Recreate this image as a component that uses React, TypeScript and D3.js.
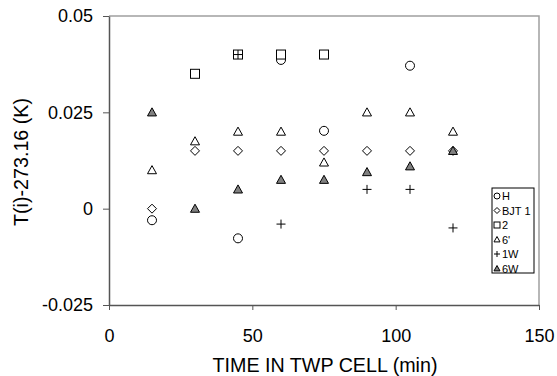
import * as d3 from 'd3';
import { useEffect, useRef } from 'react';

// time in TWP cell (min)
const timesH = [15, 45, 60, 75, 105];
const valuesH = [-0.003, -0.0077, 0.0386, 0.0202, 0.0371];

const timesBJT = [15, 30, 45, 60, 75, 90, 105, 120];
const valuesBJT = [0, 0.015, 0.015, 0.015, 0.015, 0.015, 0.015, 0.015];

const times2 = [30, 45, 60, 75];
const values2 = [0.035, 0.04, 0.04, 0.04];

const times6p = [15, 30, 45, 60, 75, 90, 105, 120];
const values6p = [0.01, 0.0175, 0.02, 0.02, 0.012, 0.025, 0.025, 0.02];

const times1W = [45, 60, 90, 105, 120];
const values1W = [0.04, -0.004, 0.005, 0.005, -0.005];

const times6W = [15, 30, 45, 60, 75, 90, 105, 120];
const values6W = [0.025, 0, 0.005, 0.0075, 0.0075, 0.0095, 0.011, 0.015];

const xTicks = [0, 50, 100, 150];
const yTicks = [-0.025, 0, 0.025, 0.05];
const yTickLabels = ['-0.025', '0', '0.025', '0.05'];

type Marker = 'circle' | 'diamond' | 'square' | 'triangle' | 'plus' | 'triangleFilled';

const series: { name: string; marker: Marker; x: number[]; y: number[] }[] = [
    { name: 'H', marker: 'circle', x: timesH, y: valuesH },
    { name: 'BJT 1', marker: 'diamond', x: timesBJT, y: valuesBJT },
    { name: '2', marker: 'square', x: times2, y: values2 },
    { name: "6'", marker: 'triangle', x: times6p, y: values6p },
    { name: '1W', marker: 'plus', x: times1W, y: values1W },
    { name: '6W', marker: 'triangleFilled', x: times6W, y: values6W },
];

const W = 557;
const H = 376;
const FONT = '"Liberation Sans", Arial, sans-serif';

function drawMarker(g: d3.Selection<SVGGElement, unknown, null, undefined>, m: Marker, cx: number, cy: number, s: number) {
    const r = s / 2;
    if (m === 'circle') {
        g.append('circle').attr('cx', cx).attr('cy', cy).attr('r', r)
            .attr('fill', 'white').attr('stroke', '#000').attr('stroke-width', 1);
    } else if (m === 'square') {
        g.append('rect').attr('x', cx - r).attr('y', cy - r).attr('width', s).attr('height', s)
            .attr('fill', 'white').attr('stroke', '#000').attr('stroke-width', 1);
    } else if (m === 'diamond') {
        g.append('path')
            .attr('d', `M${cx},${cy - r}L${cx + r},${cy}L${cx},${cy + r}L${cx - r},${cy}Z`)
            .attr('fill', 'white').attr('stroke', '#000').attr('stroke-width', 1);
    } else if (m === 'triangle' || m === 'triangleFilled') {
        g.append('path')
            .attr('d', `M${cx},${cy - r}L${cx + r},${cy + r * 0.8}L${cx - r},${cy + r * 0.8}Z`)
            .attr('fill', m === 'triangle' ? 'white' : '#808080')
            .attr('stroke', '#000').attr('stroke-width', 1);
    } else if (m === 'plus') {
        g.append('path')
            .attr('d', `M${cx - r},${cy}H${cx + r}M${cx},${cy - r}V${cy + r}`)
            .attr('fill', 'none').attr('stroke', '#000').attr('stroke-width', 1);
    }
}

const App: React.FC = () => {
    const svgRef = useRef<SVGSVGElement>(null);

    useEffect(() => {
        const svg = d3.select(svgRef.current);
        svg.selectAll('*').remove();

        const margin = { top: 16, right: 18, bottom: 71, left: 109 };
        const x = d3.scaleLinear().domain([0, 150]).range([margin.left, W - margin.right]);
        const y = d3.scaleLinear().domain([-0.025, 0.05]).range([H - margin.bottom, margin.top]);

        const root = svg.append('g');

        // plot border (top & right, grey)
        root.append('path')
            .attr('d', `M${x(0)},${y(0.05)}H${x(150)}V${y(-0.025)}`)
            .attr('fill', 'none').attr('stroke', '#a0a0a0').attr('stroke-width', 1.5);

        // Axes
        const xAxis = d3.axisBottom(x).tickValues(xTicks).tickSize(5).tickSizeOuter(0).tickPadding(19);
        const yAxis = d3.axisLeft(y).tickValues(yTicks).tickSize(6).tickSizeOuter(0).tickPadding(10)
            .tickFormat((_, i) => yTickLabels[i]);

        const gx = root.append('g').attr('transform', `translate(0,${y(-0.025)})`).call(xAxis);
        const gy = root.append('g').attr('transform', `translate(${x(0)},0)`).call(yAxis);
        [gx, gy].forEach((ax) => {
            ax.select('.domain').attr('stroke', '#555').attr('stroke-width', 1.5);
            ax.selectAll('.tick line').attr('stroke', '#555');
            ax.selectAll('.tick text').attr('fill', '#000').attr('font-size', 18).attr('font-family', FONT);
        });

        // Titles
        root.append('text')
            .attr('x', (x(0) + x(150)) / 2 + 1).attr('y', 372)
            .attr('text-anchor', 'middle').attr('font-size', 19.7).attr('font-family', FONT)
            .text('TIME IN TWP CELL (min)');
        root.append('text')
            .attr('transform', `translate(28,162) rotate(-90)`)
            .attr('text-anchor', 'middle').attr('font-size', 19.7).attr('font-family', FONT)
            .text('T(i)-273.16 (K)');

        // Points
        const pts = root.append('g');
        series.forEach((s) => {
            s.x.forEach((t, i) => drawMarker(pts, s.marker, x(t), y(s.y[i]), 9));
        });

        // Legend
        const lg = root.append('g').attr('transform', 'translate(492,188)');
        lg.append('rect').attr('width', 42).attr('height', 85)
            .attr('fill', 'white').attr('stroke', '#000').attr('stroke-width', 1);
        series.forEach((s, i) => {
            const cy = 8 + i * 14.5;
            drawMarker(lg, s.marker, 5, cy, 6);
            lg.append('text').attr('x', 10).attr('y', cy + 4)
                .attr('font-size', 11).attr('font-family', FONT).text(s.name);
        });
    }, []);

    return (
        <svg ref={svgRef} width={W} height={H} style={{ position: 'absolute', left: 0, top: 0, background: 'white' }} />
    );
};

export default App;
